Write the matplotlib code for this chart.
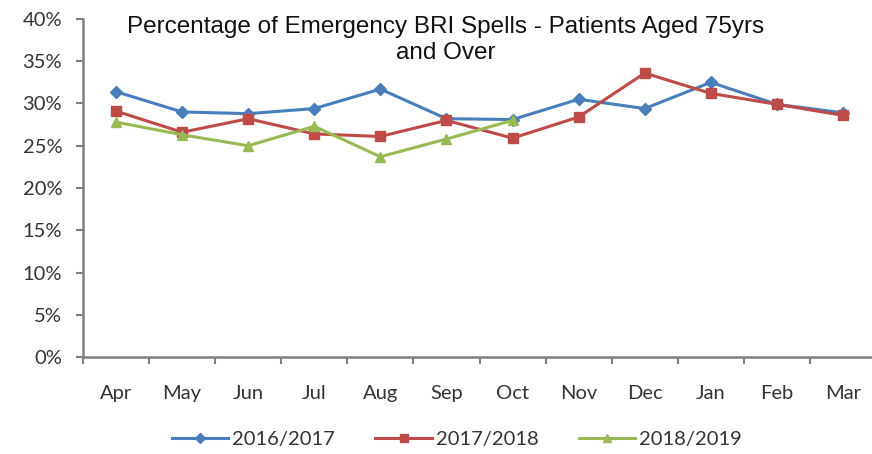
import matplotlib
matplotlib.use("Agg")
import matplotlib.pyplot as plt
from matplotlib.ticker import PercentFormatter, FixedLocator

months = ["Apr", "May", "Jun", "Jul", "Aug", "Sep", "Oct", "Nov", "Dec", "Jan", "Feb", "Mar"]
s2016 = [31.4, 29.0, 28.8, 29.4, 31.7, 28.2, 28.1, 30.5, 29.4, 32.5, 29.9, 28.9]
s2017 = [29.1, 26.6, 28.2, 26.4, 26.1, 28.0, 25.9, 28.4, 33.6, 31.2, 29.9, 28.6]
s2018 = [27.8, 26.3, 25.0, 27.3, 23.7, 25.8, 28.0]
labels = ["2016/2017", "2017/2018", "2018/2019"]
title = "Percentage of Emergency BRI Spells - Patients Aged 75yrs\nand Over"

W, H = 872, 454
fig = plt.figure(figsize=(W/100, H/100), dpi=100)
left, right, top, bottom = 83, 876, 19, 357
ax = fig.add_axes([left/W, 1-bottom/H, (right-left)/W, (bottom-top)/H])

tick_font = "Lato"
blue, red, green = "#4A7EBB", "#BE4B48", "#98B954"
x = list(range(len(months)))
ax.plot(x, s2016, color=blue, lw=2.2, marker="D", ms=6.5, label=labels[0])
ax.plot(x, s2017, color=red, lw=2.2, marker="s", ms=7.5, label=labels[1])
ax.plot(x[:len(s2018)], s2018, color=green, lw=2.2, marker="^", ms=7.5, label=labels[2])

ax.set_xlim(-0.5, 11.5)
ax.set_ylim(0, 40)
ax.yaxis.set_major_locator(FixedLocator(range(0, 41, 5)))
ax.yaxis.set_major_formatter(PercentFormatter(decimals=0))
ax.set_xticks(x)
ax.set_xticklabels(months, fontfamily=tick_font, fontsize=14.5)
ax.xaxis.set_minor_locator(FixedLocator([i - 0.5 for i in range(13)]))
ax.tick_params(axis="x", which="major", length=0, pad=20)
ax.tick_params(axis="x", which="minor", length=5, width=1.5, color="#808080", direction="out")
ax.tick_params(axis="y", length=5, width=1.5, color="#808080", direction="out", pad=10)
for lbl in ax.get_yticklabels():
    lbl.set_fontfamily(tick_font)
    lbl.set_fontsize(14.5)
    lbl.set_color("#333333")
for lbl in ax.get_xticklabels():
    lbl.set_color("#333333")
for s in ["top", "right"]:
    ax.spines[s].set_visible(False)
for s in ["left", "bottom"]:
    ax.spines[s].set_color("#808080")
    ax.spines[s].set_linewidth(1.8)

fig.text(446/W, 1-16/H, title, ha="center", va="top", fontfamily="Liberation Sans",
         fontsize=17.5, linespacing=1.25, color="#111111")

leg = fig.legend(loc="center", bbox_to_anchor=(457/W, 1-439/H), ncol=3, frameon=False,
                 prop={"family": tick_font, "size": 14.5}, handlelength=2.8,
                 columnspacing=2.0, handletextpad=0.2, markerscale=0.8)
for t in leg.get_texts():
    t.set_color("#333333")

fig.savefig("out.png", dpi=100)
